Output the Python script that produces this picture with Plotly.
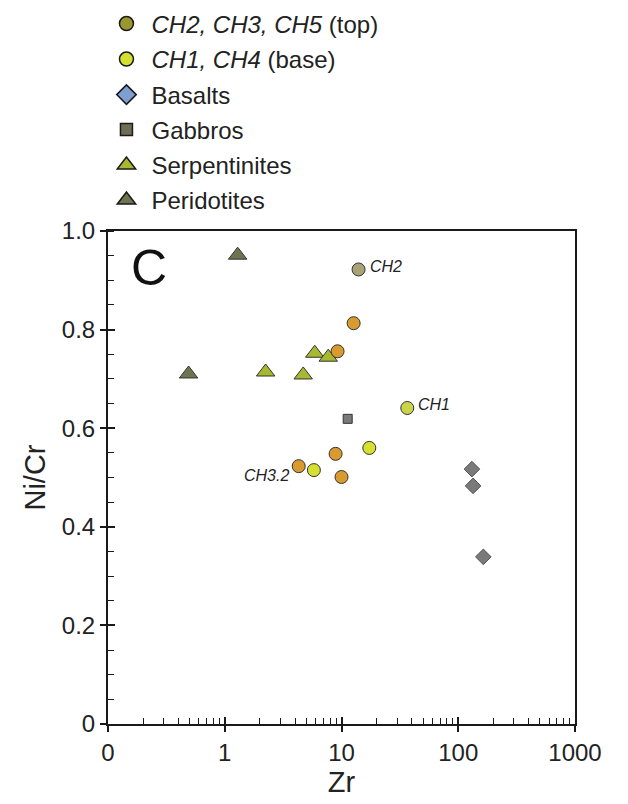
import math
import plotly.graph_objects as go

# ---- data ----
top_labels = ["CH2", "", "", "", "CH3.2", ""]
top_zr = [14.0, 12.7, 9.25, 8.9, 4.3, 10.0]
top_nicr = [0.922, 0.813, 0.756, 0.548, 0.523, 0.501]
top_colors = ["#a9a275", "#d99a30", "#d99a30", "#d99a30", "#d99a30", "#d99a30"]

base_labels = ["CH1", "", ""]
base_zr = [36.6, 17.3, 5.8]
base_nicr = [0.641, 0.560, 0.515]
base_colors = ["#c9d44a", "#d6e030", "#d6e030"]

basalt_zr = [131, 134, 164]
basalt_nicr = [0.517, 0.483, 0.339]

gabbro_zr = [11.3]
gabbro_nicr = [0.619]

serp_zr = [5.9, 7.7, 2.24, 4.7]
serp_nicr = [0.752, 0.744, 0.714, 0.708]

perid_zr = [1.29, 0.49]
perid_nicr = [0.951, 0.710]

legend_names = ["<i>CH2, CH3, CH5</i> (top)", "<i>CH1, CH4</i> (base)", "Basalts",
                "Gabbros", "Serpentinites", "Peridotites"]

x_tickvals = [0.1, 1, 10, 100, 1000]
x_ticktext = ["0", "1", "10", "100", "1000"]
y_tickvals = [0, 0.2, 0.4, 0.6, 0.8, 1.0]
y_ticktext = ["0", "0.2", "0.4", "0.6", "0.8", "1.0"]

FONT = "Liberation Sans, Arial, Helvetica, sans-serif"
LINE = "#1a1a1a"
TXT = "#222222"

fig = go.Figure()

# legend-only entries (legend colours differ from plotted colours in the original)
legend_styles = [
    ("circle", "#9a9630", 14),
    ("circle", "#d4e030", 14),
    ("diamond", "#7f9fd0", 15),
    ("square", "#6e6e55", 12),
    ("triangle-up", "#a8b830", 16),
    ("triangle-up", "#6e7450", 16),
]
legend_row_px = [24, 59.5, 95, 130, 165.5, 200.5]   # vertical centre of each legend row (px from top)
PLOT_TOP, PLOT_BOTTOM = 231, 724

layout_legends = {}
for i, (name, (sym, col, sz)) in enumerate(zip(legend_names, legend_styles)):
    key = "legend" if i == 0 else "legend%d" % (i + 1)
    fig.add_trace(go.Scatter(
        x=[None], y=[None], mode="markers", name=name, legend=key,
        marker=dict(symbol=sym, color=col, size=sz, line=dict(color=LINE, width=1.5)),
        showlegend=True,
    ))
    layout_legends[key] = dict(
        x=-0.014, y=(PLOT_BOTTOM - legend_row_px[i]) / (PLOT_BOTTOM - PLOT_TOP),
        xanchor="left", yanchor="middle",
        font=dict(family=FONT, size=24, color=TXT),
        bgcolor="rgba(0,0,0,0)", itemwidth=40,
    )

mk_line = dict(color="#333333", width=1)

fig.add_trace(go.Scatter(x=serp_zr, y=serp_nicr, mode="markers", showlegend=False,
    marker=dict(symbol="triangle-up", size=16, color="#a8b830", line=mk_line)))
fig.add_trace(go.Scatter(x=perid_zr, y=perid_nicr, mode="markers", showlegend=False,
    marker=dict(symbol="triangle-up", size=16, color="#6e7450", line=mk_line)))
fig.add_trace(go.Scatter(x=gabbro_zr, y=gabbro_nicr, mode="markers", showlegend=False,
    marker=dict(symbol="square", size=9, color="#7a7a7a", line=mk_line)))
fig.add_trace(go.Scatter(x=basalt_zr, y=basalt_nicr, mode="markers", showlegend=False,
    marker=dict(symbol="diamond", size=12, color="#7a7a7a", line=dict(color="#555555", width=1))))
fig.add_trace(go.Scatter(x=top_zr, y=top_nicr, mode="markers", showlegend=False,
    marker=dict(symbol="circle", size=13, color=top_colors, line=mk_line)))
fig.add_trace(go.Scatter(x=base_zr, y=base_nicr, mode="markers", showlegend=False,
    marker=dict(symbol="circle", size=13, color=base_colors, line=mk_line)))

# point labels (annotation x on a log axis is given in log10 units)
for lab, xv, yv in list(zip(top_labels, top_zr, top_nicr)) + list(zip(base_labels, base_zr, base_nicr)):
    if not lab:
        continue
    left = lab == "CH3.2"
    fig.add_annotation(x=math.log10(xv), y=yv, text="<i>%s</i>" % lab, showarrow=False,
        xanchor="right" if left else "left", yanchor="middle",
        xshift=-8 if left else 9, yshift=-9 if left else 3,
        font=dict(family=FONT, size=16, color=TXT))

# panel letter
fig.add_annotation(xref="paper", yref="paper", x=0.045, y=0.985, text="C",
    showarrow=False, xanchor="left", yanchor="top",
    font=dict(family=FONT, size=50, color="#111111"))

# overlay axes for the inside part of the crossing major ticks
fig.add_trace(go.Scatter(x=[None], y=[None], xaxis="x2", yaxis="y2", showlegend=False, hoverinfo="skip"))

x_minor = [m * 10 ** e for e in (-1, 0, 1, 2) for m in range(2, 10)]

fig.update_layout(
    width=628, height=804,
    margin=dict(l=108, r=53, t=PLOT_TOP, b=804 - PLOT_BOTTOM, autoexpand=False),
    paper_bgcolor="white", plot_bgcolor="white",
    font=dict(family=FONT, color=TXT),
    showlegend=True,
    xaxis=dict(type="log", range=[-1, 3], tickvals=x_tickvals, ticktext=x_ticktext,
               ticks="outside", ticklen=6, tickwidth=2, tickcolor=LINE,
               showline=True, linecolor=LINE, linewidth=2, mirror=True,
               showgrid=False, zeroline=False,
               tickfont=dict(family=FONT, size=24, color=TXT),
               title=dict(text="Zr", font=dict(family=FONT, size=29, color=TXT), standoff=4),
               minor=dict(tickvals=x_minor, ticks="inside", ticklen=6, tickwidth=1.2, tickcolor=LINE, showgrid=False)),
    yaxis=dict(range=[0, 1.0], tickvals=y_tickvals, ticktext=y_ticktext,
               ticks="outside", ticklen=6, tickwidth=2, tickcolor=LINE,
               showline=True, linecolor=LINE, linewidth=2, mirror=True,
               showgrid=False, zeroline=False,
               tickfont=dict(family=FONT, size=24, color=TXT),
               title=dict(text="Ni/Cr", font=dict(family=FONT, size=29, color=TXT), standoff=8),
               minor=dict(dtick=0.05, ticks="inside", ticklen=6, tickwidth=1.2, tickcolor=LINE, showgrid=False)),
    xaxis2=dict(type="log", range=[-1, 3], overlaying="x", anchor="y2", side="bottom",
                tickvals=x_tickvals[1:-1], ticks="inside", ticklen=7, tickwidth=2, tickcolor=LINE,
                showticklabels=False, showline=False, showgrid=False, zeroline=False),
    yaxis2=dict(range=[0, 1.0], overlaying="y", anchor="x2", side="left",
                tickvals=y_tickvals[1:-1], ticks="inside", ticklen=7, tickwidth=2, tickcolor=LINE,
                showticklabels=False, showline=False, showgrid=False, zeroline=False),
    **layout_legends,
)

fig.write_html("out.html")
